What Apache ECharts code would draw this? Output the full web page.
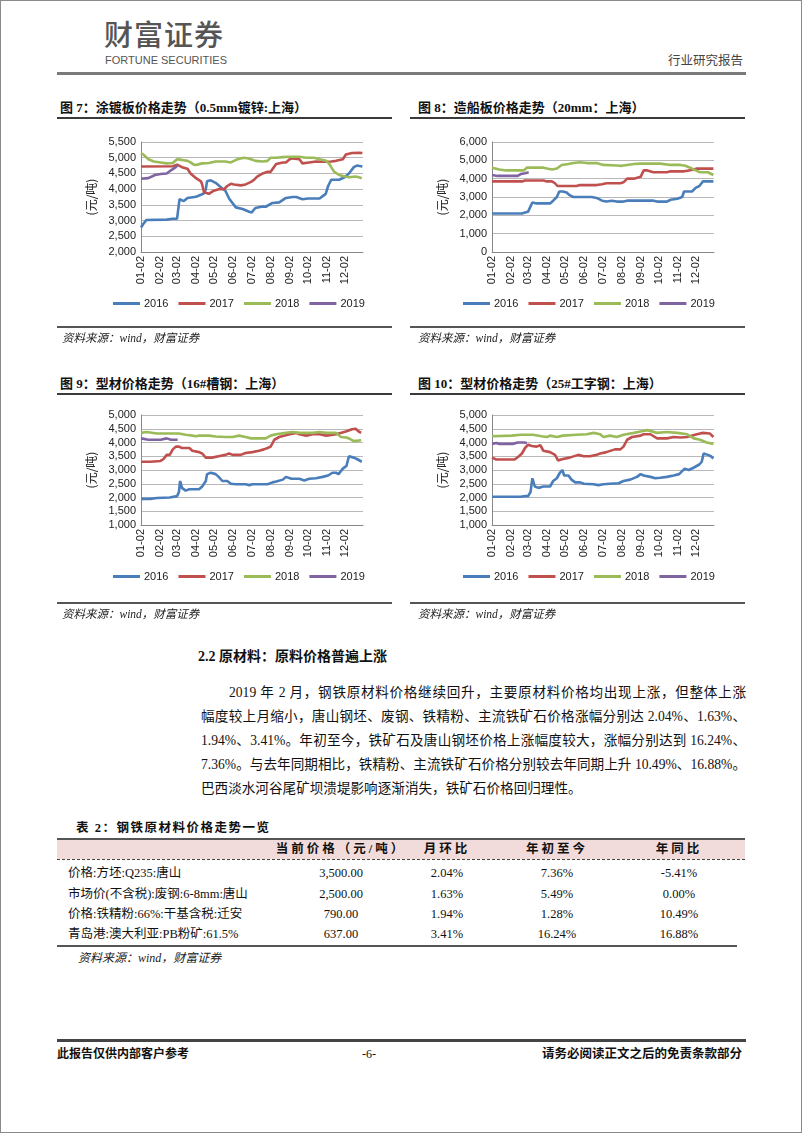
<!DOCTYPE html>
<html>
<head>
<meta charset="utf-8">
<script src="https://cdn.jsdelivr.net/npm/echarts/dist/echarts.min.js"></script>
<style>
  html, body { margin: 0; padding: 0; background: #fff; }
  body { width: 802px; height: 1133px; position: relative; overflow: hidden;
         font-family: "Liberation Serif", "Noto Sans CJK SC", serif; color: #111; }
  .abs { position: absolute; white-space: nowrap; }
  .frame { position: absolute; left: 0; top: 0; width: 800px; height: 1131px; border: 1px solid #8a8a8a; }
  .rule { position: absolute; background: #3a3a3a; }
  .ttl { font-weight: bold; font-size: 13px; line-height: 16px; }
  .src { font-style: italic; font-size: 11.5px; line-height: 14px; color: #222; }
  .chart { position: absolute; width: 335px; height: 208px; }
  .para { position: absolute; left: 201px; width: 545px; font-size: 13.6px; line-height: 18px;
          text-align: justify; text-align-last: justify; white-space: nowrap; }
  .cell { position: absolute; width: 140px; text-align: center; font-size: 12.5px; line-height: 16px; white-space: nowrap; }
  .hcell { font-weight: bold; letter-spacing: 3px; }
</style>
</head>
<body>
<div class="frame"></div>

<!-- page header -->
<div class="abs" style="left:104px;top:14px;font-family:'Noto Sans CJK SC';font-size:29px;line-height:38px;color:#555;font-weight:500;letter-spacing:1px;">财富证券</div>
<div class="abs" style="left:105px;top:54px;font-family:'Liberation Sans Narrow','Liberation Sans',sans-serif;font-size:11px;line-height:13px;color:#555;">FORTUNE SECURITIES</div>
<div class="abs" style="left:668px;top:52px;font-family:'Noto Sans CJK SC';font-size:12.5px;line-height:16px;color:#444;">行业研究报告</div>
<div class="rule" style="left:57px;top:72px;width:689px;height:3px;background:#7a7a7a;"></div>

<!-- chart titles row 1 -->
<div class="abs ttl" style="left:60px;top:100px;">图 7：涂镀板价格走势（0.5mm镀锌:上海）</div>
<div class="rule" style="left:57px;top:117px;width:335px;height:1.5px;"></div>
<div class="abs ttl" style="left:418px;top:100px;">图 8：造船板价格走势（20mm：上海）</div>
<div class="rule" style="left:410px;top:117px;width:335px;height:1.5px;"></div>

<div id="c1" class="chart" style="left:57px;top:120px;"></div>
<div id="c2" class="chart" style="left:410px;top:120px;"></div>

<div class="rule" style="left:57px;top:326px;width:335px;height:1.5px;background:#555;"></div>
<div class="rule" style="left:410px;top:326px;width:335px;height:1.5px;background:#555;"></div>
<div class="abs src" style="left:62px;top:331px;">资料来源：wind，财富证券</div>
<div class="abs src" style="left:418px;top:331px;">资料来源：wind，财富证券</div>

<!-- chart titles row 2 -->
<div class="abs ttl" style="left:60px;top:376px;">图 9：型材价格走势（16#槽钢：上海）</div>
<div class="rule" style="left:57px;top:393px;width:335px;height:1.5px;"></div>
<div class="abs ttl" style="left:418px;top:376px;">图 10：型材价格走势（25#工字钢：上海）</div>
<div class="rule" style="left:410px;top:393px;width:335px;height:1.5px;"></div>

<div id="c3" class="chart" style="left:57px;top:395px;"></div>
<div id="c4" class="chart" style="left:410px;top:395px;"></div>

<div class="rule" style="left:57px;top:602px;width:335px;height:1.5px;background:#555;"></div>
<div class="rule" style="left:410px;top:602px;width:335px;height:1.5px;background:#555;"></div>
<div class="abs src" style="left:62px;top:607px;">资料来源：wind，财富证券</div>
<div class="abs src" style="left:418px;top:607px;">资料来源：wind，财富证券</div>

<!-- section -->
<div class="abs" style="left:198px;top:648px;font-size:14px;line-height:18px;font-weight:bold;">2.2 原材料：原料价格普遍上涨</div>

<div class="para" style="top:684px;left:229px;width:517px;">2019 年 2 月，钢铁原材料价格继续回升，主要原材料价格均出现上涨，但整体上涨</div>
<div class="para" style="top:708px;">幅度较上月缩小，唐山钢坯、废钢、铁精粉、主流铁矿石价格涨幅分别达 2.04%、1.63%、</div>
<div class="para" style="top:732px;">1.94%、3.41%。年初至今，铁矿石及唐山钢坯价格上涨幅度较大，涨幅分别达到 16.24%、</div>
<div class="para" style="top:756px;">7.36%。与去年同期相比，铁精粉、主流铁矿石价格分别较去年同期上升 10.49%、16.88%。</div>
<div class="para" style="top:780px;text-align:left;text-align-last:left;">巴西淡水河谷尾矿坝溃堤影响逐渐消失，铁矿石价格回归理性。</div>

<!-- table -->
<div class="abs" style="left:76px;top:820px;font-size:12.5px;line-height:16px;font-weight:bold;letter-spacing:1.5px;">表 2：钢铁原材料价格走势一览</div>
<div id="tbl"></div>

<!-- footer -->
<div class="rule" style="left:57px;top:1039px;width:689px;height:2.5px;background:#444;"></div>
<div class="abs" style="left:57px;top:1046px;font-size:12px;line-height:16px;font-weight:bold;">此报告仅供内部客户参考</div>
<div class="abs" style="left:362px;top:1046px;font-size:12px;line-height:16px;">-6-</div>
<div class="abs" style="left:542px;top:1046px;font-size:12.5px;line-height:16px;font-weight:bold;">请务必阅读正文之后的免责条款部分</div>

<script>
// ---------- DATA ----------
const seriesNames = ['2016', '2017', '2018', '2019'];

// 图7 涂镀板 (0.5mm 镀锌：上海)
const galv2016 = [['01-02',2780],['01-06',2900],['01-11',3020],['01-14',3030],['02-13',3030],['02-23',3060],['03-02',3060],['03-05',3080],['03-06',3680],['03-13',3620],['03-19',3720],['04-02',3760],['04-10',3820],['04-15',3870],['04-18',4000],['04-20',4250],['04-26',4280],['05-04',4200],['05-15',4020],['05-20',3950],['05-26',3700],['05-29',3650],['06-06',3420],['06-17',3370],['06-28',3280],['07-02',3260],['07-08',3400],['07-20',3450],['07-25',3440],['08-05',3560],['08-16',3580],['08-27',3720],['09-07',3750],['09-13',3750],['09-23',3680],['10-02',3700],['10-21',3700],['10-31',3850],['11-04',4100],['11-09',4300],['11-22',4300],['12-01',4380],['12-08',4500],['12-16',4700],['12-21',4750],['12-30',4720]];
const galv2017 = [['01-02',4720],['02-23',4730],['03-02',4780],['03-10',4700],['03-19',4650],['03-24',4500],['04-02',4350],['04-10',4250],['04-12',4150],['04-15',3900],['04-23',3850],['04-26',3830],['05-01',3950],['05-09',4000],['05-18',4000],['05-23',4100],['05-29',4170],['06-03',4150],['06-14',4120],['06-22',4150],['07-01',4230],['07-06',4300],['07-11',4400],['07-20',4500],['07-28',4550],['08-02',4550],['08-11',4800],['08-22',4850],['08-27',4850],['09-02',4950],['09-07',4980],['09-18',4950],['09-23',4820],['10-04',4850],['10-15',4880],['11-01',4870],['11-09',4880],['11-17',4900],['11-28',4950],['12-03',5100],['12-13',5150],['12-24',5160],['12-30',5150]];
const galv2018 = [['01-02',5150],['01-06',5100],['01-14',4950],['01-23',4880],['02-03',4850],['02-13',4820],['02-23',4830],['03-02',4950],['03-10',4930],['03-19',4900],['03-24',4850],['03-30',4770],['04-04',4780],['04-12',4820],['04-23',4830],['05-04',4880],['05-20',4880],['05-29',4850],['06-03',4900],['06-09',4950],['06-19',5000],['06-25',4980],['07-01',4950],['07-08',4900],['07-20',4880],['07-28',4900],['08-02',5000],['08-11',5000],['08-22',5020],['09-02',5030],['09-18',5030],['09-29',5000],['10-12',5000],['10-21',4950],['11-01',4900],['11-06',4800],['11-09',4700],['11-14',4550],['11-22',4450],['12-01',4400],['12-08',4380],['12-19',4400],['12-24',4380],['12-29',4350]];
const galv2019 = [['01-02',4330],['01-14',4350],['01-25',4450],['02-03',4480],['02-13',4500],['02-20',4600],['02-28',4700],['03-02',4750]];

// 图8 造船板 (20mm：上海)
const ship2016 = [['01-02',2100],['02-20',2100],['02-25',2150],['03-02',2200],['03-05',2200],['03-09',2700],['03-16',2650],['03-27',2650],['04-07',2650],['04-12',2800],['04-18',3000],['04-20',3050],['04-22',3300],['04-28',3300],['05-04',3250],['05-09',3100],['05-15',3000],['05-26',3000],['06-14',3000],['06-22',2950],['07-01',2800],['07-08',2750],['07-17',2800],['07-25',2750],['08-05',2750],['08-11',2800],['08-27',2800],['09-23',2800],['09-29',2750],['10-15',2750],['10-21',2850],['11-01',2900],['11-09',3000],['11-12',3300],['11-25',3300],['12-01',3500],['12-07',3600],['12-13',3850],['12-30',3850]];
const ship2017 = [['01-02',3850],['02-20',3850],['02-25',3900],['03-27',3900],['04-02',3850],['04-10',3850],['04-15',3750],['04-19',3600],['05-20',3600],['05-26',3650],['06-22',3650],['07-01',3700],['07-08',3750],['07-31',3750],['08-05',3800],['08-11',4000],['08-22',4000],['09-02',4100],['09-05',4150],['09-07',4450],['09-13',4450],['09-23',4350],['10-15',4350],['10-21',4400],['11-12',4400],['11-20',4450],['11-28',4500],['12-03',4550],['12-30',4550]];
const ship2018 = [['01-02',4600],['01-14',4500],['01-25',4450],['02-23',4450],['02-28',4600],['03-27',4600],['04-02',4550],['04-10',4500],['04-18',4550],['04-26',4750],['05-07',4800],['05-15',4850],['05-26',4900],['06-06',4850],['06-22',4850],['07-03',4750],['07-25',4720],['08-02',4700],['08-11',4750],['08-22',4800],['09-02',4820],['10-04',4820],['10-21',4750],['11-06',4750],['11-14',4700],['11-22',4600],['12-01',4450],['12-08',4350],['12-21',4350],['12-30',4200]];
const ship2019 = [['01-02',4200],['01-11',4150],['02-13',4150],['02-18',4250],['02-25',4300],['03-03',4350]];

// 图9 16#槽钢：上海
const chan2016 = [['01-02',1950],['01-17',1950],['01-28',1980],['02-18',2000],['03-02',2050],['03-05',2200],['03-07',2600],['03-10',2350],['03-16',2250],['03-22',2300],['04-07',2300],['04-12',2400],['04-18',2600],['04-20',2850],['04-26',2900],['05-04',2850],['05-09',2750],['05-15',2600],['05-23',2600],['05-29',2500],['06-06',2480],['06-22',2480],['06-28',2450],['07-03',2480],['07-28',2480],['08-05',2550],['08-11',2580],['08-22',2650],['08-27',2750],['09-05',2680],['09-18',2680],['09-26',2620],['10-04',2680],['10-15',2700],['10-26',2750],['11-04',2800],['11-11',2900],['11-17',2900],['11-21',2850],['11-28',3050],['12-04',3150],['12-08',3500],['12-16',3450],['12-21',3400],['12-29',3300]];
const chan2017 = [['01-02',3300],['01-17',3300],['02-03',3330],['02-08',3400],['02-13',3550],['02-18',3550],['02-23',3750],['02-28',3850],['03-05',3850],['03-10',3800],['03-22',3800],['03-27',3700],['04-07',3650],['04-12',3600],['04-18',3450],['04-20',3380],['04-28',3450],['05-09',3500],['05-20',3550],['05-26',3600],['06-01',3550],['06-14',3550],['06-22',3620],['07-03',3650],['07-14',3700],['07-22',3750],['07-28',3800],['08-02',3850],['08-08',4100],['08-16',4200],['09-02',4300],['09-13',4350],['09-18',4300],['09-29',4250],['10-10',4300],['10-21',4300],['11-01',4250],['11-17',4300],['12-03',4400],['12-13',4480],['12-19',4500],['12-24',4400],['12-28',4350]];
const chan2018 = [['01-02',4350],['01-11',4380],['01-28',4330],['02-23',4330],['03-05',4330],['03-16',4280],['03-27',4250],['04-02',4230],['04-07',4250],['04-23',4250],['05-04',4220],['05-20',4200],['06-01',4200],['06-11',4250],['06-22',4200],['07-01',4150],['07-25',4150],['08-02',4250],['08-11',4300],['08-27',4350],['09-07',4380],['09-18',4350],['10-10',4350],['10-21',4380],['11-01',4350],['11-17',4350],['11-25',4200],['12-03',4180],['12-08',4150],['12-16',4050],['12-28',4080]];
const chan2019 = [['01-02',4150],['01-14',4100],['02-03',4100],['02-13',4150],['02-20',4100],['03-03',4100]];

// 图10 25#工字钢：上海
const ibeam2016 = [['01-02',2030],['02-18',2030],['02-25',2050],['03-02',2050],['03-06',2200],['03-09',2700],['03-13',2400],['03-19',2350],['03-27',2400],['04-07',2400],['04-12',2600],['04-18',2700],['04-23',2900],['04-27',3000],['04-30',2800],['05-07',2800],['05-12',2650],['05-18',2550],['05-26',2550],['06-01',2500],['06-17',2480],['06-25',2450],['07-03',2480],['07-14',2500],['07-28',2520],['08-05',2600],['08-16',2650],['08-27',2750],['09-02',2850],['09-07',2800],['09-18',2750],['09-26',2700],['10-04',2720],['10-15',2750],['10-26',2800],['11-04',2850],['11-13',3050],['11-20',3000],['11-23',2980],['11-29',3100],['12-07',3200],['12-11',3300],['12-14',3600],['12-21',3550],['12-26',3500],['12-30',3420]];
const ibeam2017 = [['01-02',3450],['01-09',3380],['02-08',3380],['02-15',3500],['02-20',3600],['02-25',3800],['03-02',3920],['03-08',3870],['03-16',3850],['03-22',3900],['03-27',3700],['04-07',3650],['04-15',3550],['04-20',3350],['04-28',3400],['05-09',3450],['05-23',3550],['06-01',3500],['06-11',3500],['06-22',3550],['06-28',3600],['07-08',3650],['07-22',3750],['07-31',3750],['08-05',3850],['08-11',4100],['08-19',4200],['09-02',4250],['09-07',4300],['09-18',4300],['09-29',4150],['10-15',4150],['10-26',4200],['11-06',4180],['11-17',4200],['12-03',4300],['12-13',4350],['12-24',4330],['12-30',4200]];
const ibeam2018 = [['01-02',4230],['02-03',4250],['02-18',4280],['03-10',4280],['03-24',4230],['04-02',4200],['04-07',4250],['04-18',4200],['04-28',4250],['05-20',4280],['06-06',4300],['06-17',4350],['06-28',4300],['07-03',4200],['07-14',4250],['07-25',4200],['08-05',4280],['08-22',4350],['09-02',4400],['09-13',4450],['09-29',4350],['10-15',4380],['11-01',4350],['11-17',4300],['11-28',4150],['12-08',4100],['12-19',4000],['12-30',3950]];
const ibeam2019 = [['01-02',3950],['01-09',3980],['01-14',3950],['02-05',3950],['02-13',4000],['02-23',4000],['02-28',3980]];

// 表2
const tableHeader = ['', '当前价格（元/吨）', '月环比', '年初至今', '年同比'];
const tableItems = ['价格:方坯:Q235:唐山', '市场价(不含税):废钢:6-8mm:唐山', '价格:铁精粉:66%:干基含税:迁安', '青岛港:澳大利亚:PB粉矿:61.5%'];
const tablePrice = ['3,500.00', '2,500.00', '790.00', '637.00'];
const tableMoM = ['2.04%', '1.63%', '1.94%', '3.41%'];
const tableYTD = ['7.36%', '5.49%', '1.28%', '16.24%'];
const tableYoY = ['-5.41%', '0.00%', '10.49%', '16.88%'];

// ---------- CATEGORY AXIS (calendar days) ----------
const monthLen = [31, 28, 31, 30, 31, 30, 31, 31, 30, 31, 30, 31];
const pad = n => (n < 10 ? '0' : '') + n;
const dayCats = [];
for (let m = 1; m <= 12; m++) {
  for (let d = 1; d <= monthLen[m - 1]; d++) {
    if (m === 1 && d === 1) continue;
    dayCats.push(pad(m) + '-' + pad(d));
  }
}

const colors = ['#4a7ebb', '#c0504d', '#9bbb59', '#8064a2'];
const axisFont = 'Liberation Sans';

function makeChart(id, gridLeft, legendLeft, gridTop, legendTop, yMin, yMax, yInt, data) {
  const chart = echarts.init(document.getElementById(id), null, { renderer: 'canvas' });
  chart.setOption({
    animation: false,
    color: colors,
    grid: { left: gridLeft, top: gridTop, width: 222, height: 110 },
    legend: {
      data: seriesNames, left: legendLeft, top: legendTop,
      icon: 'rect', itemWidth: 27, itemHeight: 3, itemGap: 10,
      textStyle: { fontFamily: axisFont, fontSize: 11, color: '#222', padding: [0, 0, 0, -1] }
    },
    xAxis: {
      type: 'category', data: dayCats, boundaryGap: false,
      axisLine: { lineStyle: { color: '#888', width: 1 } },
      axisTick: { show: false },
      axisLabel: {
        interval: (idx, val) => val.slice(3) === '02',
        rotate: 90, margin: 4, fontFamily: axisFont, fontSize: 11, color: '#222'
      },
      splitLine: { show: false }
    },
    yAxis: {
      type: 'value', min: yMin, max: yMax, interval: yInt,
      name: '(元/吨)', nameLocation: 'middle', nameGap: 32, nameRotate: 90,
      nameTextStyle: { fontFamily: 'Noto Sans CJK SC', fontSize: 12, color: '#222' },
      axisLine: { show: true, lineStyle: { color: '#888', width: 1 } },
      axisTick: { show: false },
      axisLabel: {
        margin: 5, fontFamily: axisFont, fontSize: 11, color: '#222',
        formatter: v => v.toLocaleString('en-US')
      },
      splitLine: { lineStyle: { color: '#b8b8b8', width: 1 } }
    },
    series: data.map((arr, i) => ({
      name: seriesNames[i], type: 'line', data: arr,
      showSymbol: false, symbol: 'none',
      lineStyle: { width: 2.6, color: colors[i] },
      itemStyle: { color: colors[i] }
    }))
  });
}

makeChart('c1', 84, 51, 22, 173, 2000, 5500, 500, [galv2016, galv2017, galv2018, galv2019]);
makeChart('c2', 82, 48, 22, 173, 0, 6000, 1000, [ship2016, ship2017, ship2018, ship2019]);
makeChart('c3', 84, 51, 20, 171, 1000, 5000, 500, [chan2016, chan2017, chan2018, chan2019]);
makeChart('c4', 82, 48, 20, 171, 1000, 5000, 500, [ibeam2016, ibeam2017, ibeam2018, ibeam2019]);

// ---------- TABLE ----------
(function buildTable() {
  const host = document.getElementById('tbl');
  let html = '';
  html += '<div class="rule" style="left:57px;top:838px;width:688px;height:2px;background:#555;"></div>';
  html += '<div style="position:absolute;left:57px;top:840px;width:688px;height:19px;background:#f2dcdb;"></div>';
  html += '<div style="position:absolute;left:57px;top:859px;width:688px;height:0;border-top:1px dashed #444;"></div>';
  const centers = [0, 341, 447, 557, 679];
  for (let c = 1; c < tableHeader.length; c++) {
    html += '<div class="cell hcell" style="left:' + (centers[c] - 70) + 'px;top:841px;">' + tableHeader[c] + '</div>';
  }
  const rowCenters = [873, 894, 914, 934];
  const cols = [tablePrice, tableMoM, tableYTD, tableYoY];
  for (let r = 0; r < tableItems.length; r++) {
    const top = rowCenters[r] - 8;
    html += '<div class="abs" style="left:68px;top:' + top + 'px;font-size:12.5px;line-height:16px;">' + tableItems[r] + '</div>';
    for (let c = 0; c < cols.length; c++) {
      html += '<div class="cell" style="left:' + (centers[c + 1] - 70) + 'px;top:' + top + 'px;">' + cols[c][r] + '</div>';
    }
  }
  html += '<div class="rule" style="left:57px;top:945px;width:680px;height:2px;background:#555;"></div>';
  html += '<div class="abs src" style="left:78px;top:951px;font-size:12px;">资料来源：wind，财富证券</div>';
  host.innerHTML = html;
})();
</script>
</body>
</html>
